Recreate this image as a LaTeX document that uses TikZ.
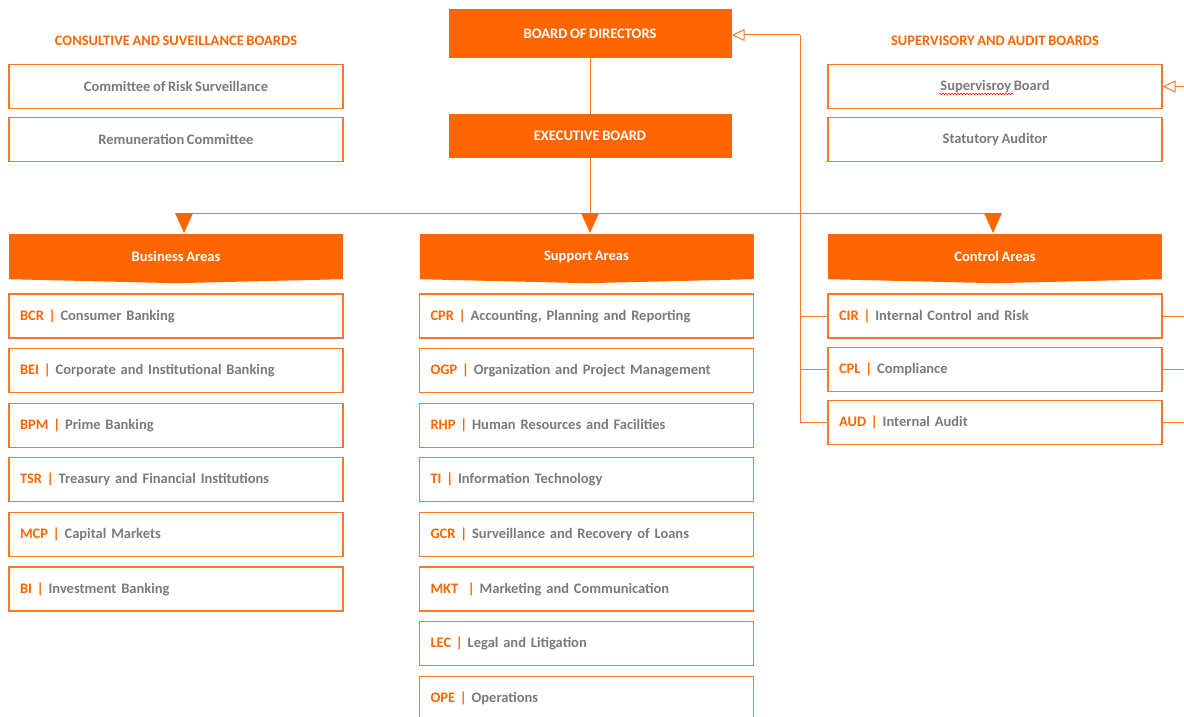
\documentclass[tikz,border=0pt]{standalone}
\usepackage{fontspec}
\setmainfont{Carlito}[WordSpace=0.8]
\usetikzlibrary{arrows.meta,positioning,decorations.pathmorphing}

\definecolor{orng}{HTML}{FF6600}
\definecolor{orline}{HTML}{F9772A}
\definecolor{gtext}{HTML}{7A7A7A}

\tikzset{
  txt/.style={font=\bfseries\fontsize{14.5}{17}\selectfont},
  board/.style={txt,fill=orng,text=white,minimum width=283pt,inner sep=0pt},
  title/.style={txt,text=orng},
  box/.style={txt,draw=orline,line width=1.1pt,minimum width=334pt,minimum height=44pt,text=gtext,inner sep=0pt},
  item/.style={box,text width=312pt,align=left,inner xsep=11pt},
  area/.style={txt,fill=orng,text=white,minimum width=334pt,minimum height=45pt,inner sep=0pt},
  line/.style={draw=orline,line width=1pt}
}
\newcommand{\cd}[1]{{\color{orng}#1 |}}

\begin{document}
\begin{tikzpicture}[x=1pt,y=-1pt,node distance=9.5pt]
\useasboundingbox (0,0) rectangle (1184,717);

% boards
\node[board,minimum height=49pt] (bod) at (590,33.5) {BOARD OF DIRECTORS};
\node[board,minimum height=44pt] (exb) at (590,136) {EXECUTIVE BOARD};

\node[title] (tl) at (176,41) {CONSULTIVE AND SUVEILLANCE BOARDS};
\node[box] (crs) at (176,86.5) {Committee of Risk Surveillance};
\node[box] (rem) at (176,139.5) {Remuneration Committee};

\node[title] (tr) at (995,41) {SUPERVISORY AND AUDIT BOARDS};
\node[box] (sup) at (995,86.5) {Supervisroy Board};
\node[box] (sta) at (995,139.5) {Statutory Auditor};
\draw[red,line width=0.5pt,decorate,decoration={snake,amplitude=0.7pt,segment length=3pt}] (939,94) -- (1013,94);

% areas
\node[area] (bus) at (176,256.5) {Business Areas};
\node[area] (spa) at (586.5,256.5) {Support Areas};
\node[area] (cta) at (995,256.5) {Control Areas};
\foreach \a in {bus,spa,cta}
  \fill[orng] (\a.south west) -- (\a.south east) -- ([yshift=-4pt]\a.south) -- cycle;

% business areas
\node[item] (bcr) at (176,316) {\cd{BCR} Consumer Banking};
\node[item,below=of bcr] (bei) {\cd{BEI} Corporate and Institutional Banking};
\node[item,below=of bei] (bpm) {\cd{BPM} Prime Banking};
\node[item,below=of bpm] (tsr) {\cd{TSR} Treasury and Financial Institutions};
\node[item,below=of tsr] (mcp) {\cd{MCP} Capital Markets};
\node[item,below=of mcp] (bi) {\cd{BI} Investment Banking};

% support areas
\node[item] (cpr) at (586.5,316) {\cd{CPR} Accounting, Planning and Reporting};
\node[item,below=of cpr] (ogp) {\cd{OGP} Organization and Project Management};
\node[item,below=of ogp] (rhp) {\cd{RHP} Human Resources and Facilities};
\node[item,below=of rhp] (ti) {\cd{TI} Information Technology};
\node[item,below=of ti] (gcr) {\cd{GCR} Surveillance and Recovery of Loans};
\node[item,below=of gcr] (mkt) {{\color{orng}MKT\ \ |} Marketing and Communication};
\node[item,below=of mkt] (lec) {\cd{LEC} Legal and Litigation};
\node[item,below=of lec] (ope) {\cd{OPE} Operations};

% control areas
\node[item] (cir) at (995,316) {\cd{CIR} Internal Control and Risk};
\node[item,below=8pt of cir] (cpl) {\cd{CPL} Compliance};
\node[item,below=8pt of cpl] (aud) {\cd{AUD} Internal Audit};

% connectors
\coordinate (jb) at (184,213);
\coordinate (js) at (590,213);
\coordinate (jc) at (993,213);
\coordinate (tp) at (800,35);
\coordinate (rim) at (1190,0);

\draw[line] (bod) -- (exb);
\draw[line] (exb) -- (js);
\draw[line] (jb) -- (jc);
\foreach \j in {jb,js,jc}
  \fill[orng] ([xshift=-9pt]\j) -- ([xshift=9pt]\j) -- ([yshift=-20pt]\j) -- cycle;

\draw[line,-{Triangle[open,length=13pt,width=12pt]}] (tp) -- (tp -| bod.east);
\draw[line] (tp) |- (aud.west);
\draw[line] (cir.west -| tp) -- (cir.west);
\draw[line] (cpl.west -| tp) -- (cpl.west);
\draw[line] (cir.east) -- (cir.east -| rim);
\draw[line] (cpl.east) -- (cpl.east -| rim);
\draw[line] (aud.east) -- (aud.east -| rim);
\draw[line,-{Triangle[open,length=13pt,width=12pt]}] (sup.east -| rim) -- (sup.east);

\end{tikzpicture}
\end{document}
